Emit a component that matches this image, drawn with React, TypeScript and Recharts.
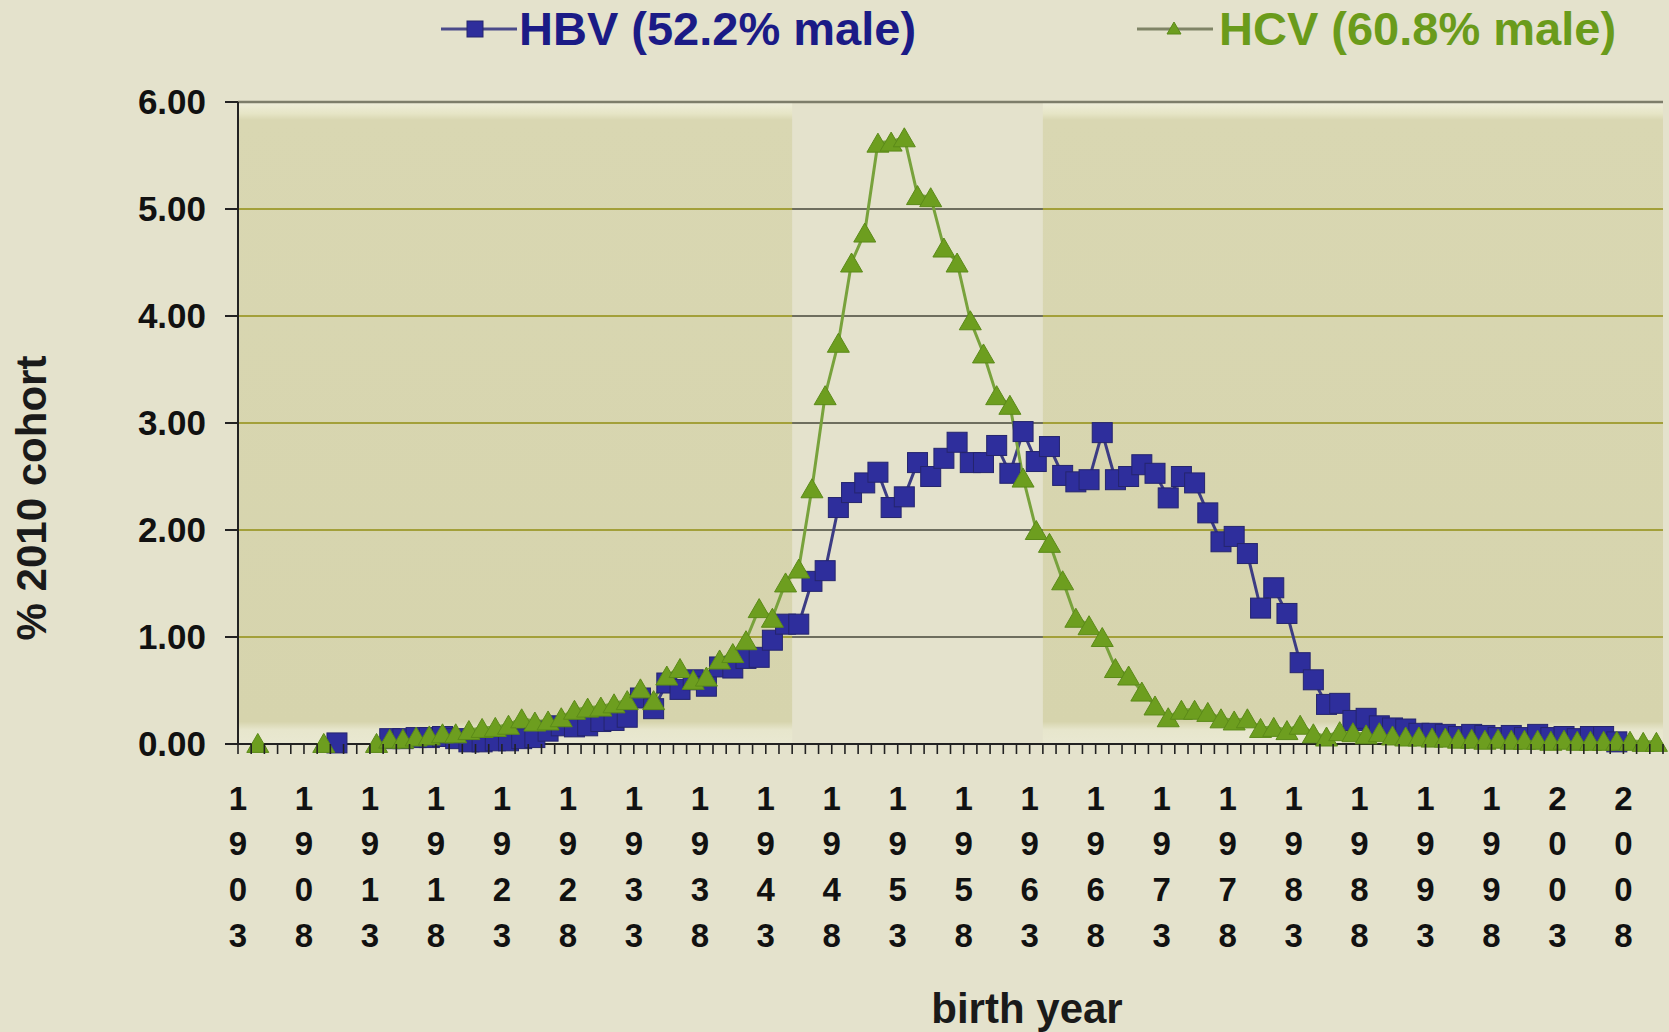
import { LineChart, Line, XAxis, YAxis, ReferenceArea, ReferenceLine } from 'recharts'

// birth years 1903..2010, one category per year
const years: string[] = Array.from({ length: 108 }, (_, i) => String(1903 + i))

// % of 2010 cohort, HBV (rows: 1903-09, then one decade per row)
const hbv: (number | null)[] = [
  null, null, null, null, null, null, null,
  0.01, null, null, null, 0.05, 0.05, 0.06, 0.06, 0.07, 0.05,
  0.02, 0.02, 0.03, 0.03, 0.05, 0.06, 0.12, 0.17, 0.16, 0.17,
  0.21, 0.22, 0.25, 0.43, 0.33, 0.57, 0.51, 0.6, 0.54, 0.72,
  0.71, 0.8, 0.81, 0.97, 1.12, 1.12, 1.52, 1.62, 2.21, 2.35,
  2.44, 2.54, 2.21, 2.31, 2.63, 2.5, 2.67, 2.82, 2.63, 2.63,
  2.79, 2.53, 2.92, 2.64, 2.78, 2.51, 2.45, 2.47, 2.91, 2.47,
  2.5, 2.61, 2.53, 2.3, 2.5, 2.44, 2.16, 1.89, 1.94, 1.78,
  1.27, 1.46, 1.22, 0.76, 0.6, 0.37, 0.38, 0.22, 0.24, 0.17,
  0.15, 0.14, 0.1, 0.1, 0.09, 0.07, 0.09, 0.08, 0.06, 0.08,
  0.06, 0.09, 0.06, 0.07, 0.05, 0.07, 0.07, 0.02, null, null,
  null,
]

// % of 2010 cohort, HCV
const hcv: (number | null)[] = [
  null, 0.01, null, null, null, null, 0.01,
  null, null, null, 0.01, 0.05, 0.05, 0.07, 0.08, 0.1, 0.1,
  0.13, 0.15, 0.16, 0.18, 0.24, 0.21, 0.22, 0.25, 0.32, 0.34,
  0.35, 0.38, 0.41, 0.52, 0.41, 0.64, 0.71, 0.6, 0.63, 0.79,
  0.85, 0.97, 1.27, 1.18, 1.51, 1.64, 2.39, 3.26, 3.75, 4.5,
  4.78, 5.62, 5.63, 5.67, 5.13, 5.11, 4.64, 4.5, 3.96, 3.65,
  3.26, 3.17, 2.49, 2.0, 1.88, 1.53, 1.18, 1.11, 1.0, 0.71,
  0.64, 0.49, 0.36, 0.25, 0.32, 0.32, 0.3, 0.24, 0.22, 0.24,
  0.15, 0.16, 0.13, 0.18, 0.1, 0.07, 0.12, 0.11, 0.09, 0.11,
  0.08, 0.07, 0.07, 0.06, 0.06, 0.05, 0.05, 0.04, 0.05, 0.04,
  0.04, 0.04, 0.03, 0.04, 0.03, 0.03, 0.03, 0.03, 0.03, 0.02,
  0.02,
]

const yTicks = [0, 1, 2, 3, 4, 5, 6]
const shadedRanges: [string, string][] = [['1903', '1944'], ['1964', '2010']]
const middleRange: [string, string] = ['1945', '1964']

const HBV_NAME = 'HBV (52.2% male)'
const HCV_NAME = 'HCV (60.8% male)'

const data = years.map((year, i) => ({ year, hbv: hbv[i], hcv: hcv[i] }))

const W = 1669
const H = 1032
const M = { top: 102, right: 6, bottom: 88, left: 0 }
const Y_AXIS_W = 238
const X_AXIS_H = 200
const PLOT_BOTTOM = H - M.bottom - X_AXIS_H
const BAND = (W - M.left - M.right - Y_AXIS_W) / years.length

const FONT = '"Liberation Sans", Arial, sans-serif'
const BG = '#e4e2cc'
const HBV_COLOR = '#2e2e9c'
const HCV_COLOR = '#6d9e1f'

function YearTick(props: any) {
  const { x, payload } = props
  const idx = years.indexOf(String(payload.value))
  const left = x - BAND / 2
  const y = PLOT_BOTTOM
  return (
    <g>
      <line x1={left} y1={y} x2={left} y2={y + 10} stroke="#222" strokeWidth={1.6} />
      {idx === years.length - 1 && (
        <line x1={x + BAND / 2} y1={y} x2={x + BAND / 2} y2={y + 10} stroke="#222" strokeWidth={1.6} />
      )}
      {idx % 5 === 0 &&
        String(payload.value)
          .split('')
          .map((d, k) => (
            <text
              key={k}
              x={left}
              y={y + 54 + k * 45.8}
              textAnchor="middle"
              dominantBaseline="central"
              fontFamily={FONT}
              fontWeight="bold"
              fontSize={33}
              fill="#111"
            >
              {d}
            </text>
          ))}
    </g>
  )
}

function SquareDot(props: any) {
  const { cx, cy, value, index } = props
  if (value == null || cy == null || isNaN(cy)) return <g key={`s${index}`} />
  const s = 20
  return <rect key={`s${index}`} x={cx - s / 2} y={cy - s / 2} width={s} height={s} fill={HBV_COLOR} stroke="#25256e" strokeWidth={1} />
}

function TriangleDot(props: any) {
  const { cx, cy, value, index } = props
  if (value == null || cy == null || isNaN(cy)) return <g key={`t${index}`} />
  const w = 22
  const h = 19
  const pts = `${cx},${cy - h / 2} ${cx + w / 2},${cy + h / 2} ${cx - w / 2},${cy + h / 2}`
  return <polygon key={`t${index}`} points={pts} fill={HCV_COLOR} stroke="#5b8a18" strokeWidth={1} />
}

export default function App() {
  return (
    <div style={{ position: 'absolute', left: 0, top: 0, width: W, height: H, background: BG, overflow: 'hidden', fontFamily: FONT }}>
      {/* legend */}
      <div style={{ position: 'absolute', left: 441, top: 2, display: 'flex', alignItems: 'center', lineHeight: '54px' }}>
        <svg width={76} height={24}>
          <line x1={0} y1={12} x2={76} y2={12} stroke="#4a4a8a" strokeWidth={3} />
          <rect x={26} y={4} width={16} height={16} fill={HBV_COLOR} stroke="#25256e" />
        </svg>
        <span style={{ fontSize: 47, fontWeight: 'bold', color: '#1b1b86', marginLeft: 2 }}>{HBV_NAME}</span>
      </div>
      <div style={{ position: 'absolute', left: 1137, top: 2, display: 'flex', alignItems: 'center', lineHeight: '54px' }}>
        <svg width={76} height={24}>
          <line x1={0} y1={12} x2={76} y2={12} stroke="#7f8466" strokeWidth={3} />
          <polygon points="37,5 44,17 30,17" fill={HCV_COLOR} stroke="#5b8a18" />
        </svg>
        <span style={{ fontSize: 47, fontWeight: 'bold', color: '#6a9b1b', marginLeft: 6 }}>{HCV_NAME}</span>
      </div>

      <LineChart width={W} height={H} data={data} margin={M} style={{ position: 'absolute', left: 0, top: 0 }}>
        <defs>
          <linearGradient id="shade" x1="0" y1="0" x2="0" y2="1">
            <stop offset="0" stopColor="#efeedb" />
            <stop offset="0.018" stopColor="#e6e5c6" />
            <stop offset="0.028" stopColor="#d9d7b2" />
            <stop offset="0.965" stopColor="#d6d4ad" />
            <stop offset="0.978" stopColor="#e7e6cc" />
            <stop offset="1" stopColor="#e9e8d2" />
          </linearGradient>
        </defs>
        <XAxis
          dataKey="year"
          scale="band"
          interval={0}
          height={X_AXIS_H}
          tickLine={false}
          tickSize={0}
          tickMargin={0}
          axisLine={{ stroke: '#222', strokeWidth: 2 }}
          tick={(p: any) => <YearTick {...p} />}
        />
        <YAxis
          domain={[0, 6]}
          ticks={yTicks}
          width={Y_AXIS_W}
          tickFormatter={(v: number) => v.toFixed(2)}
          axisLine={{ stroke: '#222', strokeWidth: 2 }}
          tickLine={{ stroke: '#222', strokeWidth: 2 }}
          tickSize={13}
          tickMargin={19}
          tick={{ fontSize: 35, fontWeight: 'bold', fill: '#111', fontFamily: FONT }}
        />
        {shadedRanges.map(([a, b]) => (
          <ReferenceArea key={a} x1={a} x2={b} y1={0} y2={6} fill="url(#shade)" fillOpacity={1} stroke="none" />
        ))}
        {yTicks.slice(1, 6).map((t) => (
          <ReferenceLine key={`g${t}`} y={t} stroke="#a3a03a" strokeWidth={2} />
        ))}
        {yTicks.slice(1, 6).map((t) => (
          <ReferenceLine
            key={`m${t}`}
            segment={[{ x: middleRange[0], y: t }, { x: middleRange[1], y: t }]}
            position="start"
            stroke="#6e6e5e"
            strokeWidth={2}
          />
        ))}
        <ReferenceLine y={6} stroke="#7d7d6a" strokeWidth={2.5} />
        <Line
          dataKey="hbv"
          name={HBV_NAME}
          stroke="#3c3c84"
          strokeWidth={3}
          dot={SquareDot}
          activeDot={false}
          isAnimationActive={false}
        />
        <Line
          dataKey="hcv"
          name={HCV_NAME}
          stroke="#78a23c"
          strokeWidth={3}
          dot={TriangleDot}
          activeDot={false}
          isAnimationActive={false}
        />
      </LineChart>

      <div style={{ position: 'absolute', left: 32, top: 498, transform: 'translate(-50%, -50%) rotate(-90deg)', whiteSpace: 'nowrap', fontSize: 42, fontWeight: 'bold', color: '#1a1a1a' }}>
        % 2010 cohort
      </div>
      <div style={{ position: 'absolute', left: 1027, top: 1009, transform: 'translate(-50%, -50%)', whiteSpace: 'nowrap', fontSize: 42, fontWeight: 'bold', color: '#1a1a1a' }}>
        birth year
      </div>
    </div>
  )
}
